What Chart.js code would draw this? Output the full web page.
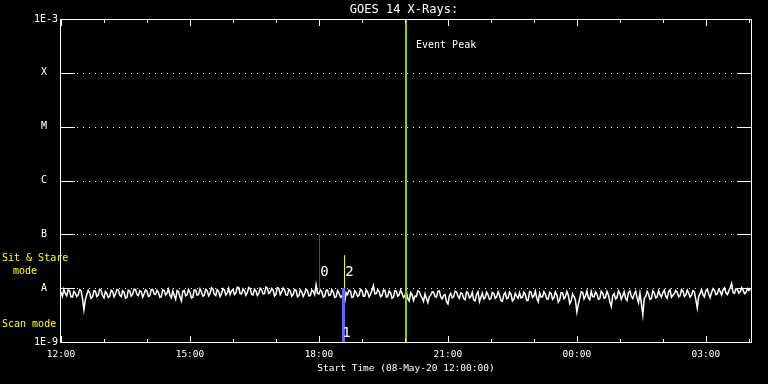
<!DOCTYPE html>
<html>
<head>
  <meta charset="utf-8">
  <title>GOES 14 X-Rays</title>
  <script src="https://cdn.jsdelivr.net/npm/chart.js"></script>
  <style>
    body { margin: 0; background: #000; }
    #wrap { width: 768px; height: 384px; }
  </style>
</head>
<body>
  <div id="wrap"><canvas id="goes" width="768" height="384"></canvas></div>

  <script>
    // time in minutes after 08-May-20 12:00:00, flux in units of 1E-9 W/m^2
    const START_MIN = 0;
    const STEP_MIN = 2;
    const END_MIN = 963;

    const flux = [
      8.4, 7.1, 9.6, 8.0, 7.2, 9.3, 8.9, 6.9, 6.8, 8.7, 8.1, 7.0, 7.5, 9.4, 9.0, 6.4, 4.0, 6.2, 7.6, 9.1,
      8.2, 6.5, 6.9, 9.0, 8.8, 7.0, 7.4, 9.5, 9.1, 7.3, 6.6, 8.6, 8.0, 6.7, 7.1, 9.2, 8.7, 6.9, 7.8, 9.4,
      9.3, 7.4, 7.0, 8.9, 8.4, 6.5, 6.7, 9.2, 8.9, 7.1, 7.7, 9.6, 9.4, 7.6, 7.3, 9.0, 8.6, 6.8, 7.9, 9.3,
      8.8, 7.0, 7.2, 9.4, 9.5, 7.8, 7.6, 9.1, 8.3, 6.7, 6.9, 9.3, 9.0, 7.5, 8.1, 9.6, 7.4, 6.6, 8.9, 7.3,
      6.2, 9.0, 8.6, 6.9, 5.8, 8.8, 9.1, 7.2, 7.5, 9.5, 8.4, 6.6, 6.8, 9.3, 9.2, 7.4, 7.6, 9.7, 8.5, 7.1,
      7.4, 9.5, 9.0, 7.2, 8.0, 10.1, 9.6, 7.7, 7.3, 9.4, 8.7, 7.0, 7.9, 9.8, 9.3, 7.5, 8.2, 9.9, 7.6, 8.9,
      9.5, 7.6, 8.1, 10.4, 10.2, 7.9, 7.8, 9.7, 9.0, 7.4, 8.3, 10.3, 9.8, 7.7, 7.5, 9.6, 8.9, 7.3, 8.0, 10.0,
      9.4, 7.8, 7.9, 10.5, 10.0, 8.0, 8.4, 9.9, 9.2, 7.2, 7.7, 10.2, 9.9, 7.6, 8.6, 10.1, 9.3, 7.5, 7.4, 9.5,
      8.8, 7.1, 7.6, 9.4, 9.1, 6.9, 7.2, 9.3, 8.5, 7.0, 7.9, 9.5, 9.0, 7.2, 7.3, 9.2, 8.7, 7.6, 11.5, 8.0,
      7.8, 9.3, 8.6, 6.8, 7.0, 9.1, 9.2, 7.3, 7.5, 9.4, 8.4, 6.7, 6.9, 9.0, 8.1, 6.8, 7.2, 5.9, 5.6, 8.3,
      7.6, 9.2, 8.8, 6.7, 6.9, 9.0, 8.3, 7.0, 7.4, 9.5, 9.0, 7.1, 7.1, 9.3, 8.5, 6.9, 7.7, 9.1, 11.2, 7.8,
      7.9, 9.4, 8.6, 6.9, 7.3, 9.2, 9.1, 6.8, 7.0, 8.9, 8.2, 6.5, 6.8, 9.0, 8.8, 7.1, 7.5, 9.3, 8.0, 6.7,
      7.2, 8.6, 6.4, 5.8, 8.3, 7.5, 5.9, 7.1, 7.0, 8.9, 8.6, 7.3, 6.6, 5.7, 7.8, 6.5, 5.4, 6.9, 7.4, 8.5,
      8.4, 7.0, 6.8, 8.7, 8.9, 6.9, 6.3, 7.4, 7.6, 5.6, 5.1, 7.2, 8.0, 6.6, 6.9, 8.8, 8.5, 7.1, 6.5, 8.2,
      7.9, 6.4, 6.1, 8.5, 8.2, 6.6, 7.0, 8.4, 6.0, 5.8, 7.7, 8.6, 5.6, 6.8, 8.1, 6.3, 6.7, 8.4, 7.5, 6.2,
      6.4, 8.3, 8.0, 6.5, 6.9, 8.6, 7.4, 5.9, 5.7, 7.6, 8.3, 6.4, 6.6, 8.5, 7.8, 5.8, 6.2, 8.0, 7.1, 6.5,
      8.2, 6.6, 6.8, 8.4, 7.6, 5.9, 6.0, 8.7, 8.5, 6.7, 7.2, 8.8, 6.5, 5.6, 8.1, 6.8, 6.9, 8.6, 7.7, 6.3,
      6.3, 8.4, 8.0, 6.2, 6.7, 8.5, 7.5, 5.5, 6.1, 8.3, 8.2, 6.4, 6.9, 8.7, 7.4, 5.2, 5.8, 7.9, 7.0, 6.0,
      3.6, 5.0, 6.5, 8.6, 8.4, 6.3, 7.1, 8.9, 6.6, 6.1, 8.7, 7.0, 6.9, 8.5, 7.8, 6.2, 6.4, 8.8, 8.1, 6.5,
      6.8, 8.7, 7.5, 5.6, 4.6, 7.2, 7.9, 6.3, 6.7, 8.9, 8.0, 6.2, 7.2, 8.6, 6.5, 5.9, 8.3, 8.9, 7.0, 6.4,
      7.8, 8.8, 6.6, 5.4, 8.1, 5.2, 3.2, 6.4, 7.0, 8.7, 7.7, 6.2, 6.4, 8.9, 8.2, 6.6, 6.9, 9.0, 7.6, 6.8,
      8.3, 9.2, 7.1, 6.5, 8.6, 9.3, 6.8, 7.4, 7.9, 9.1, 8.4, 6.9, 7.2, 9.4, 8.8, 7.0, 7.5, 9.2, 8.1, 6.8,
      7.4, 9.0, 8.5, 6.1, 4.3, 7.0, 8.0, 9.4, 7.6, 6.9, 8.9, 9.6, 7.8, 6.7, 8.4, 9.8, 9.2, 7.6, 7.9, 9.5,
      8.7, 7.5, 9.3, 10.1, 8.2, 7.6, 8.8, 10.3, 12.2, 8.3, 8.0, 9.7, 9.4, 8.1, 8.6, 10.2, 9.1, 7.9, 8.4, 9.8,
      9.0, 9.6
    ];

    // hourly ticks, labelled every 3 hours
    const hourTicks = [0, 60, 120, 180, 240, 300, 360, 420, 480, 540, 600, 660, 720, 780, 840, 900, 960];
    const xTickMinutes = [0, 180, 360, 540, 720, 900];
    const xTickLabels = ['12:00', '15:00', '18:00', '21:00', '00:00', '03:00'];

    // flux levels (1E-9 W/m^2) and their class names
    const yLevels = [1, 10, 100, 1000, 10000, 100000, 1000000];
    const yLabels = ['1E-9', 'A', 'B', 'C', 'M', 'X', '1E-3'];

    // vertical markers: time, top and bottom flux, tag and the flux where the tag sits
    const markTimes = [360.8, 394.3, 395.7, 481.5];
    const markTops = [100, 10, 41, 1000000];
    const markBottoms = [9, 1, 6.2, 1];
    const markTags = ['0', '1', '2', 'Event Peak'];
    const markTagLevels = [19.5, 1.45, 19.5, 330000];

    const markColors = ['#c000c0', '#6464ff', '#ffff00', '#9acd00'];
    const markWidths = [1, 3, 1, 2];
    const tagStyle = [
      { dx: 5, font: '14px "DejaVu Sans Mono"', align: 'center' },
      { dx: 3, font: '14px "DejaVu Sans Mono"', align: 'center' },
      { dx: 5, font: '14px "DejaVu Sans Mono"', align: 'center' },
      { dx: 10, font: '10px "DejaVu Sans Mono"', align: 'left' }
    ];

    const datasets = [{
      data: flux.map((v, i) => ({ x: START_MIN + i * STEP_MIN, y: v })),
      borderColor: '#ffffff',
      borderWidth: 1.5,
      pointRadius: 0,
      order: 5
    }];
    markTimes.forEach((t, i) => {
      datasets.push({
        data: [{ x: t, y: markBottoms[i] }, { x: t, y: markTops[i] }],
        borderColor: markColors[i],
        borderWidth: markWidths[i],
        pointRadius: 0,
        order: 1
      });
    });

    const goesFrame = {
      id: 'goesFrame',
      beforeDatasetsDraw(chart) {
        const { ctx, chartArea: a, scales: { y } } = chart;
        ctx.save();
        ctx.strokeStyle = '#ffffff';
        ctx.lineWidth = 1;
        ctx.setLineDash([1, 5]);
        yLevels.slice(1, -1).forEach(v => {
          const py = Math.round(y.getPixelForValue(v)) + 0.5;
          ctx.beginPath();
          ctx.moveTo(a.left + 16, py);
          ctx.lineTo(a.right - 15, py);
          ctx.stroke();
        });
        ctx.restore();
      },
      afterDatasetsDraw(chart) {
        const { ctx, chartArea: a, scales: { x, y } } = chart;
        ctx.save();
        ctx.strokeStyle = '#ffffff';
        ctx.lineWidth = 1;

        // frame
        ctx.strokeRect(a.left - 0.5, a.top + 0.5, a.right - a.left + 1, a.bottom - a.top);

        // y ticks on both sides
        yLevels.slice(1, -1).forEach(v => {
          const py = Math.round(y.getPixelForValue(v)) + 0.5;
          ctx.beginPath();
          ctx.moveTo(a.left, py);
          ctx.lineTo(a.left + 14, py);
          ctx.moveTo(a.right - 14, py);
          ctx.lineTo(a.right, py);
          ctx.stroke();
        });

        // x ticks top and bottom
        hourTicks.forEach(t => {
          const px = Math.round(x.getPixelForValue(t)) + 0.5;
          const len = xTickMinutes.includes(t) ? 6 : 3;
          ctx.beginPath();
          ctx.moveTo(px, a.bottom);
          ctx.lineTo(px, a.bottom - len);
          ctx.moveTo(px, a.top + 1);
          ctx.lineTo(px, a.top + 1 + len);
          ctx.stroke();
        });

        ctx.fillStyle = '#ffffff';
        ctx.textBaseline = 'middle';

        // y labels
        ctx.font = '10px "DejaVu Sans Mono"';
        yLevels.forEach((v, i) => {
          const py = y.getPixelForValue(v);
          const lab = yLabels[i];
          if (lab.length > 1) {
            ctx.textAlign = 'right';
            ctx.fillText(lab, a.left - 3, py);
          } else {
            ctx.textAlign = 'center';
            ctx.fillText(lab, a.left - 17, py);
          }
        });

        // x labels
        ctx.font = '9.5px "DejaVu Sans Mono"';
        ctx.textAlign = 'center';
        xTickMinutes.forEach((t, i) => {
          ctx.fillText(xTickLabels[i], x.getPixelForValue(t), a.bottom + 13);
        });

        // titles
        const cx = (a.left + a.right) / 2;
        ctx.font = '12px "DejaVu Sans Mono"';
        ctx.fillText('GOES 14 X-Rays:', cx - 2, 10);
        ctx.font = '9.5px "DejaVu Sans Mono"';
        ctx.fillText('Start Time (08-May-20 12:00:00)', cx, a.bottom + 27);

        // marker tags
        markTags.forEach((tag, i) => {
          const s = tagStyle[i];
          ctx.font = s.font;
          ctx.textAlign = s.align;
          ctx.fillText(tag, x.getPixelForValue(markTimes[i]) + s.dx, y.getPixelForValue(markTagLevels[i]));
        });

        // mode notes
        ctx.fillStyle = '#ffff00';
        ctx.font = '10px "DejaVu Sans Mono"';
        ctx.textAlign = 'left';
        ctx.fillText('Sit & Stare', 2, 258);
        ctx.fillText('mode', 13, 271);
        ctx.fillText('Scan mode', 2, 324);
        ctx.restore();
      }
    };

    new Chart(document.getElementById('goes'), {
      type: 'line',
      data: { datasets: datasets },
      options: {
        responsive: false,
        animation: false,
        devicePixelRatio: 1,
        layout: { padding: { left: 61, right: 17, top: 19, bottom: 42 } },
        plugins: { legend: { display: false }, tooltip: { enabled: false } },
        scales: {
          x: { type: 'linear', min: START_MIN, max: END_MIN, display: false },
          y: { type: 'logarithmic', min: 1, max: 1000000, display: false }
        },
        elements: { line: { tension: 0 } }
      },
      plugins: [goesFrame]
    });
  </script>
</body>
</html>
